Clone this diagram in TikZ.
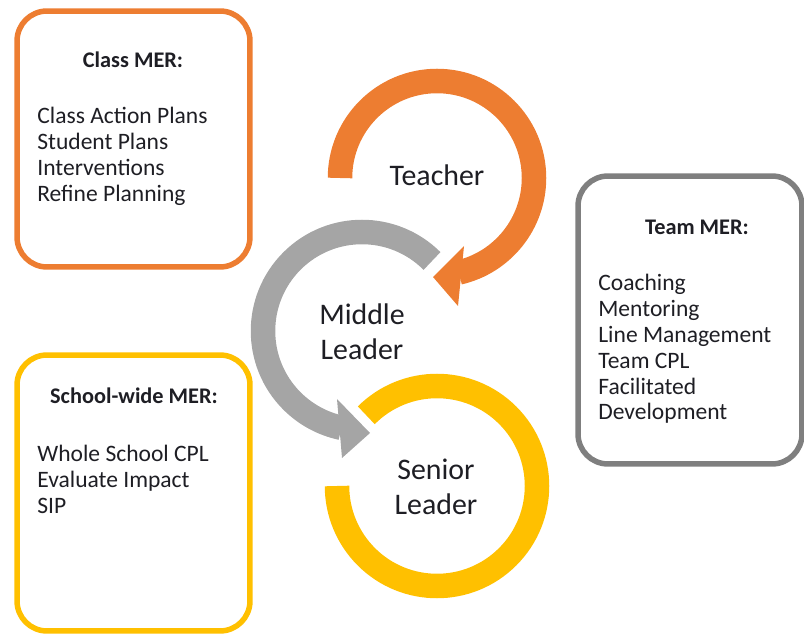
\documentclass[tikz,border=0pt]{standalone}
\usepackage{fontspec}
\setmainfont{Carlito}
\definecolor{orangeMER}{HTML}{ED7D31}
\definecolor{grisMER}{HTML}{A5A5A5}
\definecolor{grisCadre}{HTML}{7F7F7F}
\definecolor{jauneMER}{HTML}{FFC000}
\definecolor{texte}{HTML}{1E1E24}

\begin{document}
\begin{tikzpicture}[x=0.02cm,y=0.02cm]
 % style des noeuds
  \tikzstyle{cadre}=[rectangle,draw,line width=0.11cm,rounded corners=0.6cm]
  \tikzstyle{titre}=[font=\fontsize{12.7}{15}\selectfont\bfseries,text=texte]
  \tikzstyle{liste}=[anchor=north west,align=left,inner sep=0pt,font=\fontsize{13.4}{14.7}\selectfont,text=texte]
  \tikzstyle{role}=[align=center,font=\fontsize{17}{20}\selectfont,text=texte]
 % style des anneaux
  \tikzstyle{anneau}=[line width=0.49cm]
  \useasboundingbox (0,0) rectangle (804,-634);
 % centres des anneaux
  \coordinate (cTeacher) at (437,-178);
  \coordinate (cMiddle) at (362,-331);
  \coordinate (cSenior) at (437,-486);
 % cadres MER
  \node[cadre,draw=orangeMER,minimum width=4.66cm,minimum height=5.12cm] (classbox) at (133.5,-139) {};
  \node[cadre,draw=grisCadre,minimum width=4.48cm,minimum height=5.76cm] (teambox) at (690,-320) {};
  \node[cadre,draw=jauneMER,minimum width=4.66cm,minimum height=5.52cm] (schoolbox) at (133.5,-493) {};
  \node[titre] (classtitle) at (133,-60) {Class MER:};
  \node[titre] (teamtitle) at (697,-227) {Team MER:};
  \node[titre] (schooltitle) at (134,-396) {School-wide MER:};
  \node[liste] (classlist) at (37,-107) {Class Action Plans\\Student Plans\\Interventions\\Refine Planning};
  \node[liste] (teamlist) at (598,-274) {Coaching\\Mentoring\\Line Management\\Team CPL\\Facilitated\\Development};
  \node[liste] (schoollist) at (37,-445) {Whole School CPL\\Evaluate Impact\\SIP};
 % anneaux et pointes
  \draw[anneau,orangeMER] ([shift={(180:97)}]cTeacher) arc[start angle=180,end angle=-77,radius=97];
  \fill[orangeMER] ([shift={(27,-68)}]cTeacher) -- ([shift={(-4,-99)}]cTeacher)
    -- ([shift={(21,-128)}]cTeacher) -- cycle;
  \draw[anneau,grisMER] ([shift={(45:99)}]cMiddle) arc[start angle=45,end angle=258,radius=99];
  \fill[grisMER] ([shift={(-25,-68)}]cMiddle) -- ([shift={(8,-102)}]cMiddle)
    -- ([shift={(-20,-127)}]cMiddle) -- cycle;
  \draw[anneau,jauneMER] ([shift={(135:100)}]cSenior) arc[start angle=135,end angle=-180,radius=100];
 % noms des roles
  \node[role] (teacher) at (437,-175) {Teacher};
  \node[role] (middle) at (362,-332) {Middle\\Leader};
  \node[role] (senior) at (436,-487) {Senior\\Leader};
\end{tikzpicture}
\end{document}
